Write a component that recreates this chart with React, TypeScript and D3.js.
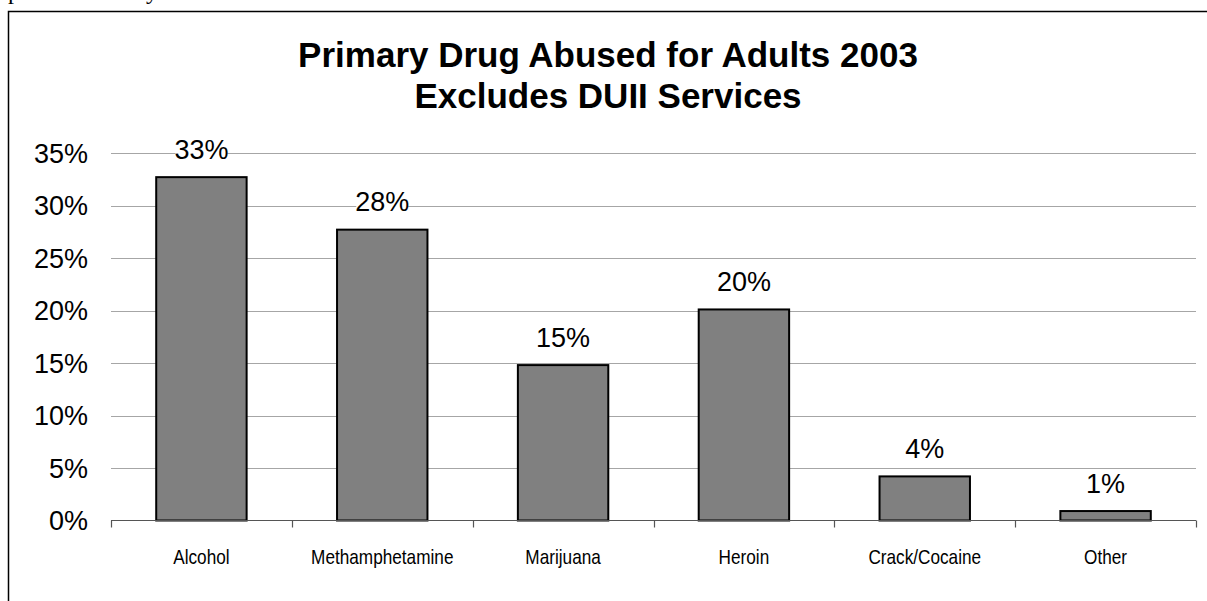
import React from "react";
import * as d3 from "d3";

const categories = ["Alcohol", "Methamphetamine", "Marijuana", "Heroin", "Crack/Cocaine", "Other"];
const values = [32.7, 27.7, 14.8, 20.1, 4.2, 0.9];
const valueLabels = ["33%", "28%", "15%", "20%", "4%", "1%"];
const yTicks = [0, 5, 10, 15, 20, 25, 30, 35];
const titleLines = ["Primary Drug Abused for Adults 2003", "Excludes DUII Services"];

const W = 1207;
const H = 601;
const plot = { left: 111, right: 1196, top: 153, bottom: 520.5 };

export default function App() {
  const x = d3.scaleBand<string>().domain(categories).range([plot.left, plot.right]).paddingInner(0.5).paddingOuter(0.25);
  const y = d3.scaleLinear().domain([0, 35]).range([plot.bottom, plot.top]);
  const boundaries = d3.range(categories.length + 1).map((i) => plot.left + i * ((plot.right - plot.left) / categories.length));
  const arial = "'Liberation Sans', Arial, sans-serif";

  return (
    <svg width={W} height={H} style={{ position: "absolute", left: 0, top: 0, background: "#fff" }}>
      <text fontFamily="'Liberation Serif', 'Times New Roman', serif" fontSize={24} y={-1}>
        <tspan x={8}>p</tspan>
        <tspan x={146}>y</tspan>
      </text>
      <path d={`M8.5,${H + 5} L8.5,11.5 L${W + 5},11.5`} fill="none" stroke="#000" strokeWidth={1.5} />
      {titleLines.map((t, i) => (
        <text key={t} x={608} y={67 + i * 41} textAnchor="middle" fontFamily={arial} fontWeight="bold" fontSize={35} fill="#000">
          {t}
        </text>
      ))}
      {yTicks.map((t) => (
        <g key={t}>
          {t > 0 && (
            <line x1={plot.left} x2={plot.right} y1={Math.round(y(t)) + 0.5} y2={Math.round(y(t)) + 0.5} stroke="#a6a6a6" strokeWidth={1} />
          )}
          <text x={88} y={y(t)} dy="0.36em" textAnchor="end" fontFamily={arial} fontSize={27} fill="#000">
            {t}%
          </text>
        </g>
      ))}
      {categories.map((c, i) => (
        <rect key={c} x={x(c)} y={y(values[i])} width={x.bandwidth()} height={plot.bottom - y(values[i])} fill="#808080" stroke="#000" strokeWidth={2} />
      ))}
      <line x1={plot.left} x2={plot.right} y1={plot.bottom} y2={plot.bottom} stroke="#555" strokeWidth={1.2} />
      {boundaries.map((bx, i) => (
        <line key={i} x1={Math.round(bx) + 0.5} x2={Math.round(bx) + 0.5} y1={plot.bottom} y2={plot.bottom + 7} stroke="#555" strokeWidth={1.2} />
      ))}
      {categories.map((c, i) => {
        const cx = (x(c) as number) + x.bandwidth() / 2;
        const by = y(values[i]) - 18.5;
        const w = valueLabels[i].length * 15 + 7;
        return (
          <g key={c}>
            <rect x={cx - w / 2} y={by - 22} width={w} height={26} fill="#fff" />
            <text x={cx} y={by} textAnchor="middle" fontFamily={arial} fontSize={27} fill="#000">
              {valueLabels[i]}
            </text>
            <text transform={`translate(${cx},564) scale(0.86,1)`} textAnchor="middle" fontFamily={arial} fontSize={20} fill="#000">
              {c}
            </text>
          </g>
        );
      })}
    </svg>
  );
}
